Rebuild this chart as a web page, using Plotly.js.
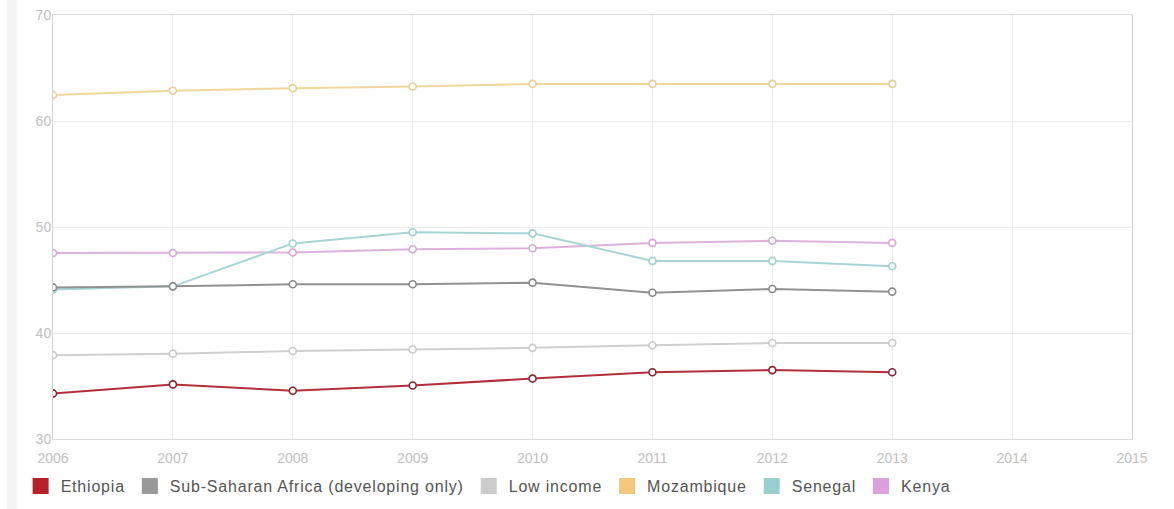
<!DOCTYPE html>
<html>
<head>
<meta charset="utf-8">
<script src="https://cdn.plot.ly/plotly-3.0.1.min.js"></script>
<style>
  html, body { margin: 0; padding: 0; background: #fff; }
  #chart { width: 1174px; height: 509px; }
  .legendtext { letter-spacing: 0.8px; }
</style>
</head>
<body>
<div id="chart"></div>
<script>
const years = [2006, 2007, 2008, 2009, 2010, 2011, 2012, 2013];

const seriesNames = ["Ethiopia", "Sub-Saharan Africa (developing only)", "Low income", "Mozambique", "Senegal", "Kenya"];

const ethiopia   = [34.3, 35.15, 34.55, 35.05, 35.7, 36.3, 36.5, 36.3];
const ssa        = [44.3, 44.4, 44.6, 44.6, 44.75, 43.8, 44.15, 43.9];
const lowIncome  = [37.9, 38.05, 38.3, 38.45, 38.6, 38.85, 39.05, 39.05];
const mozambique = [62.45, 62.85, 63.1, 63.25, 63.5, 63.5, 63.5, 63.5];
const senegal    = [44.1, 44.4, 48.45, 49.5, 49.4, 46.8, 46.8, 46.3];
const kenya      = [47.55, 47.55, 47.6, 47.9, 48.0, 48.5, 48.7, 48.5];

const xTicks = [2006, 2007, 2008, 2009, 2010, 2011, 2012, 2013, 2014, 2015];
const yTicks = [30, 40, 50, 60, 70];

const values = [ethiopia, ssa, lowIncome, mozambique, senegal, kenya];
const lineColors   = ["#b3303a", "#919191", "#d0d0d0", "#f0d79c", "#a9d5d5", "#dcb2dc"];
const markerColors = ["#8a2630", "#8a8a8a", "#cacaca", "#e8cf94", "#9fcfcf", "#d6a8d6"];
const legendColors = ["#b5202b", "#999999", "#cccccc", "#f5c77a", "#99cfd0", "#dda0dd"];

const traces = [];
// draw order: lighter series first, Ethiopia on top
const order = [2, 3, 5, 4, 1, 0];
order.forEach(i => {
  traces.push({
    type: "scatter",
    mode: "lines+markers",
    x: years,
    y: values[i],
    name: seriesNames[i],
    showlegend: false,
    line: { color: lineColors[i], width: 2 },
    marker: { symbol: "circle", size: 7, color: "#ffffff", line: { color: markerColors[i], width: 1.6 } },
    hoverinfo: "skip"
  });
});
// legend entries (square swatches)
seriesNames.forEach((n, i) => {
  traces.push({
    type: "scatter",
    mode: "markers",
    x: [null],
    y: [null],
    name: n,
    showlegend: true,
    marker: { symbol: "square", size: 16, color: legendColors[i] },
    hoverinfo: "skip"
  });
});

const layout = {
  width: 1174,
  height: 509,
  margin: { l: 53, r: 42, t: 15, b: 70, autoexpand: false },
  paper_bgcolor: "#ffffff",
  plot_bgcolor: "#ffffff",
  font: { family: "Liberation Sans, Arial, sans-serif", color: "#555" },
  xaxis: {
    range: [2006, 2015],
    tickvals: xTicks,
    ticktext: xTicks.map(String),
    showgrid: true,
    gridcolor: "#ececec",
    gridwidth: 1,
    zeroline: false,
    showline: true,
    linecolor: "#dcdcdc",
    linewidth: 1,
    mirror: true,
    ticks: "",
    automargin: false,
    ticklabelstandoff: 6,
    tickfont: { size: 14, color: "#c0c0c0" }
  },
  yaxis: {
    range: [30, 70],
    tickvals: yTicks,
    ticktext: yTicks.map(String),
    showgrid: true,
    gridcolor: "#ececec",
    gridwidth: 1,
    zeroline: false,
    showline: true,
    linecolor: "#d4d4d4",
    linewidth: 1,
    mirror: true,
    ticks: "",
    automargin: false,
    ticklabelstandoff: -2,
    tickfont: { size: 14, color: "#c0c0c0" }
  },
  showlegend: true,
  legend: {
    orientation: "h",
    x: -0.03,
    xanchor: "left",
    y: -0.111,
    yanchor: "middle",
    font: { size: 16, color: "#555" },
    bgcolor: "rgba(0,0,0,0)",
    itemclick: false,
    itemdoubleclick: false,
    tracegroupgap: 0
  },
  shapes: [
    {
      type: "rect", xref: "paper", yref: "paper",
      x0: -0.0429, x1: -0.0337, y0: -0.2, y1: 1.1,
      fillcolor: "#f3f3f3", line: { width: 0 }, layer: "below"
    }
  ]
};

Plotly.newPlot("chart", traces, layout, { staticPlot: true, displayModeBar: false });
</script>
</body>
</html>
